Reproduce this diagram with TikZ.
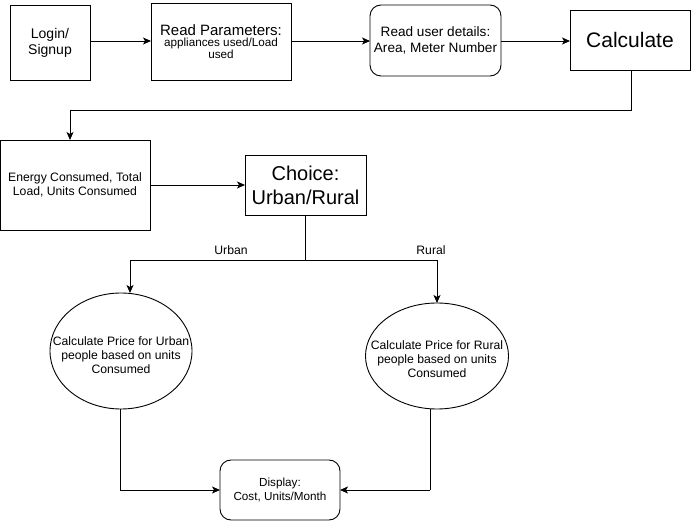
\documentclass[tikz,border=0pt]{standalone}
\usepackage{fontspec}
\setmainfont{Liberation Sans}
\usetikzlibrary{shapes.geometric,arrows.meta}
\begin{document}
\begin{tikzpicture}[x=1pt,y=-1pt,
  every node/.style={inner sep=0pt,outer sep=0pt,align=center},
  box/.style={draw,line width=0.9pt,minimum width=#1},
  rbox/.style={draw,line width=0.9pt,rounded corners=11pt},
  ell/.style={draw,ellipse,line width=0.9pt},
  small/.style={font=\fontsize{12.2}{14}\selectfont},
  arr/.style={line width=0.9pt,-{Stealth[length=8pt,width=7pt,inset=2pt]}},
  ln/.style={line width=0.9pt}]
\useasboundingbox (0,0) rectangle (691,521);
\node[box=80pt,minimum height=75pt,font=\fontsize{14}{16}\selectfont] (login) at (50,42.5) {Login/\\Signup};
\node[box=140pt,minimum height=77pt] (params) at (221,41.5) {{\fontsize{15}{17}\selectfont Read Parameters:}\\[-1pt]{\fontsize{11.7}{13.5}\selectfont appliances used/Load}\\{\fontsize{11.7}{13.5}\selectfont used}};
\node[rbox,minimum width=131pt,minimum height=71pt,font=\fontsize{13.6}{15.5}\selectfont] (user) at (435.5,40.5) {Read user details:\\Area, Meter Number};
\node[box=120pt,minimum height=60pt,font=\fontsize{21}{23}\selectfont] (calc) at (630,40) {Calculate};
\node[box=150pt,minimum height=90pt,small] (energy) at (75,185) {Energy Consumed, Total\\Load, Units Consumed};
\node[box=121pt,minimum height=60pt,font=\fontsize{20}{24}\selectfont] (choice) at (305.5,185) {Choice:\\Urban/Rural};
\node[ell,minimum width=142pt,minimum height=116pt] (urban) at (121,351) {};
\node[small] at (121,355) {Calculate Price for Urban\\people based on units\\Consumed};
\node[ell,minimum width=143pt,minimum height=106pt] (rural) at (437,356) {};
\node[small] at (437,359) {Calculate Price for Rural\\people based on units\\Consumed};
\node[rbox,minimum width=120pt,minimum height=60pt,font=\fontsize{11.7}{13.5}\selectfont] (disp) at (280,490) {Display:\\Cost, Units/Month};
\node[small] (lurban) at (231,250) {Urban};
\node[small] (lrural) at (431,250) {Rural};
\coordinate (c1) at (631,110);
\coordinate (c2) at (70,110);
\coordinate (s) at (305.5,260);
\coordinate (ul) at (130,260);
\coordinate (rl) at (437,260);
\coordinate (ub) at (120,490);
\coordinate (rb) at (430,490);
\draw[arr] (login.east |- 0,41) -- (params.west |- 0,41);
\draw[arr] (params.east |- 0,41) -- (user.west |- 0,41);
\draw[arr] (user.east |- 0,41) -- (calc.west |- 0,41);
\draw[arr] (calc.south -| c1) -- (c1) -- (c2) -- (energy.north -| c2);
\draw[arr] (energy.east) -- (choice.west);
\draw[ln] (choice.south) -- (s);
\draw[arr] (s) -- (ul) -- (urban.north -| ul);
\draw[arr] (s) -- (rl) -- (rural.north);
\draw[ln] (rural.south -| rb) -- (rb);
\draw[arr] (urban.south -| ub) -- (ub) -- (disp.west);
\draw[arr] (rb) -- (disp.east);
\end{tikzpicture}
\end{document}
